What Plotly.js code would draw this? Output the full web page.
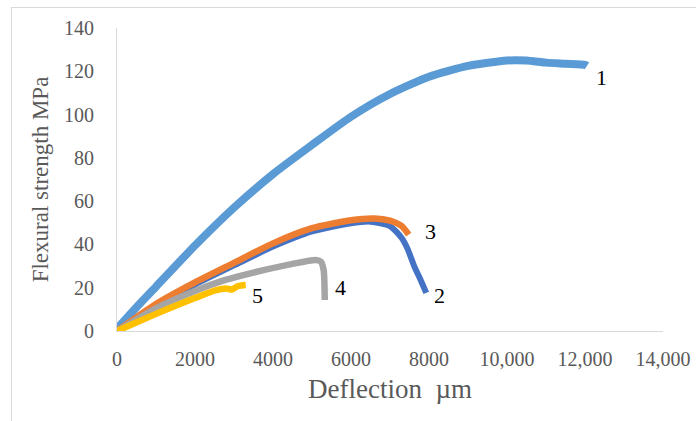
<!DOCTYPE html>
<html><head><meta charset="utf-8">
<script src="https://cdn.plot.ly/plotly-3.0.1.min.js"></script>
<style>
html,body{margin:0;padding:0;background:#fff;}
#frame{position:absolute;left:11px;top:7px;width:700px;height:430px;border:1px solid #d9d9d9;box-sizing:border-box;}
#chart{position:absolute;left:0;top:0;width:696px;height:421px;}
</style></head>
<body><div id="frame"></div><div id="chart"></div>
<script>
// Series data (deflection in µm, flexural strength in MPa)
const x1 = [0, 500, 1000, 2000, 3000, 4000, 5000, 6000, 7000, 8000, 9000, 10000, 10500, 11000, 11500, 12000, 12050];
const y1 = [1, 11, 20.5, 39.5, 57, 72.5, 86, 99, 109.5, 117.5, 122.5, 125, 125, 124, 123.5, 123, 122.5];
const x2 = [0, 1000, 2000, 3000, 4000, 5000, 6000, 6500, 7000, 7300, 7450, 7620, 7800, 7930];
const y2 = [0, 12, 21.5, 30.3, 39, 46, 49.8, 50.5, 48.5, 43, 38, 30, 23, 17.6];
const x3 = [0, 1000, 2000, 3000, 4000, 5000, 6000, 6600, 7000, 7300, 7480];
const y3 = [0, 12.5, 22.5, 31.5, 40.5, 47.5, 51.2, 52, 51, 48.5, 44.5];
const x4 = [0, 1000, 2000, 2780, 3500, 4500, 5100, 5230, 5300, 5327];
const y4 = [0, 10.5, 18.5, 23.6, 27, 31, 32.8, 32, 28, 14.3];
const x5 = [0, 463, 1235, 2000, 2522, 2800, 2950, 3100, 3300];
const y5 = [0, 3.7, 9.7, 15.2, 18.8, 19.6, 19.2, 20.8, 21.3];
const seriesLabels = ['1', '2', '3', '4', '5'];
const labelX = [12430, 8260, 8050, 5740, 3600];
const labelY = [117, 16.6, 46.2, 20.3, 16.6];
const xTickVals = [0, 2000, 4000, 6000, 8000, 10000, 12000, 14000];
const xTickText = ['0', '2000', '4000', '6000', '8000', '10,000', '12,000', '14,000'];
const yTickVals = [0, 20, 40, 60, 80, 100, 120, 140];

const colors = ['#5B9BD5', '#4472C4', '#ED7D31', '#A5A5A5', '#FFC000'];
const widths = [8, 6, 6.5, 6.5, 6.5];
const xs = [x1, x2, x3, x4, x5];
const ys = [y1, y2, y3, y4, y5];
const order = [0, 1, 2, 3, 4];
const traces = order.map(i => ({
  x: xs[i], y: ys[i], type: 'scatter', mode: 'lines',
  line: {color: colors[i], width: widths[i], shape: 'spline', smoothing: 0.6},
  hoverinfo: 'skip', showlegend: false
}));

const annotations = seriesLabels.map((t, i) => ({
  x: labelX[i], y: labelY[i], xref: 'x', yref: 'y', text: t, showarrow: false,
  font: {family: 'Liberation Serif', size: 22, color: '#000'}
}));

const tickFont = {family: 'Liberation Serif', size: 20, color: '#595959'};
const layout = {
  width: 696, height: 421,
  margin: {l: 117, r: 33, t: 28, b: 90},
  paper_bgcolor: 'rgba(0,0,0,0)', plot_bgcolor: 'rgba(0,0,0,0)',
  showlegend: false,
  xaxis: {
    range: [0, 14000], tickvals: xTickVals, ticktext: xTickText,
    showgrid: false, zeroline: false, showline: true, linecolor: '#d9d9d9', linewidth: 1,
    ticks: '', tickfont: tickFont, ticklabelstandoff: 10,
    title: {text: 'Deflection  µm', font: {family: 'Liberation Serif', size: 27, color: '#595959'}, standoff: 10}
  },
  yaxis: {
    range: [0, 140], tickvals: yTickVals,
    showgrid: false, zeroline: false, showline: true, linecolor: '#d9d9d9', linewidth: 1,
    ticks: '', tickfont: tickFont, ticklabelstandoff: 18,
    title: {text: 'Flexural strength MPa', font: {family: 'Liberation Serif', size: 23, color: '#595959'}, standoff: 8}
  },
  annotations: annotations
};
Plotly.newPlot('chart', traces, layout, {displayModeBar: false, staticPlot: true});
</script></body></html>
